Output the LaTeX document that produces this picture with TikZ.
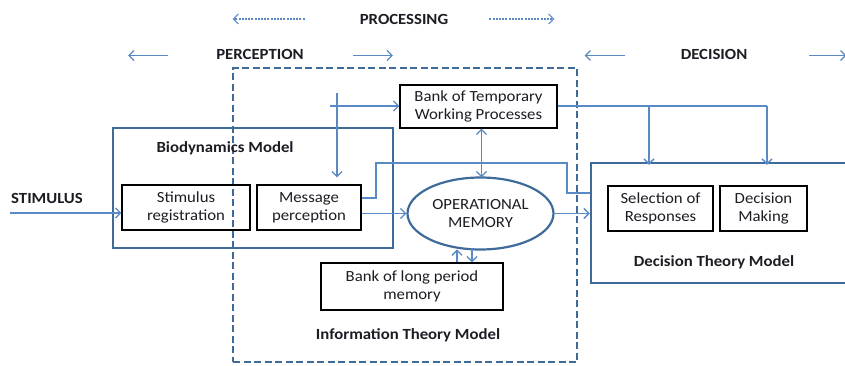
\documentclass[tikz,border=0pt]{standalone}
\usepackage{fontspec}
\setmainfont{Carlito}[FakeStretch=1.08]
\usetikzlibrary{arrows.meta,shapes.geometric,calc}
\definecolor{linkblue}{HTML}{5A8AC6}
\definecolor{frameblue}{HTML}{3F6B9A}
\definecolor{inktext}{HTML}{1C1C24}
\begin{document}
\begin{tikzpicture}[x=1pt,y=-1pt,
  txt/.style={font=\fontsize{15.5}{18}\selectfont, text=inktext, align=center, inner sep=0pt},
  lbl/.style={txt, font=\fontsize{15.5}{18}\selectfont\bfseries},
  inbox/.style={txt, draw=black, line width=1.2pt, minimum height=45pt},
  frame/.style={draw=frameblue, line width=2.4pt},
  link/.style={draw=linkblue, line width=1.3pt},
  tip/.style={link, -{Straight Barb[length=5pt,width=10pt]}},
  dtip/.style={link, {Straight Barb[length=5pt,width=10pt]}-{Straight Barb[length=5pt,width=10pt]}},
  dots/.style={tip, line width=1.1pt, dash pattern=on 2pt off 1.2pt}
]
\useasboundingbox (0,0) rectangle (845,365);

% outer model frames
\node[frame, dashed, dash pattern=on 7pt off 3.5pt, line width=2pt, minimum width=344pt, minimum height=294pt] (itm) at (405,215) {};
\node[frame, minimum width=280pt, minimum height=120pt] (bio) at (253,188) {};
\node[frame, minimum width=270pt, minimum height=120pt] (dtm) at (726,223) {};

% titles
\node[lbl] (biot) at (225,148) {Biodynamics Model};
\node[lbl] (itmt) at (408,335) {Information Theory Model};
\node[lbl] (dtmt) at (714,262) {Decision Theory Model};

% stage labels
\node[lbl] (proc) at (404,19) {PROCESSING};
\node[lbl] (perc) at (260,54) {PERCEPTION};
\node[lbl] (deci) at (714,54) {DECISION};
\node[lbl] (stimulus) at (47,198) {STIMULUS};

% inner blocks
\node[inbox, minimum width=128pt] (sreg) at (186,207.5) {Stimulus\\registration};
\node[inbox, minimum width=104pt] (mper) at (309,207.5) {Message\\perception};
\node[inbox, minimum width=157pt, minimum height=43pt] (btemp) at (478.5,106.5) {Bank of Temporary\\Working Processes};
\node[txt, ellipse, draw=frameblue, line width=2.2pt, minimum width=146pt, minimum height=72pt] (opmem) at (480.5,213.5) {OPERATIONAL\\MEMORY};
\node[inbox, minimum width=182pt, minimum height=47pt] (blong) at (412,286.5) {Bank of long period\\memory};
\node[inbox, minimum width=105pt] (sel) at (660.5,208.5) {Selection of\\Responses};
\node[inbox, minimum width=87pt] (dmk) at (763.5,208.5) {Decision\\Making};

% stage arrows
\draw[dots] ($(proc.west)+(-55,0)$) -- ($(proc.west)+(-127,0)$);
\draw[dots] ($(proc.east)+(41,0)$) -- ($(proc.east)+(106,0)$);
\draw[tip] ($(perc.west)+(-48,1.5)$) -- ($(perc.west)+(-88,1.5)$);
\draw[tip] ($(perc.east)+(49,1.5)$) -- ($(perc.east)+(89,1.5)$);
\draw[tip] ($(deci.west)+(-56,1.5)$) -- ($(deci.west)+(-96,1.5)$);
\draw[tip] ($(deci.east)+(62,1.5)$) -- ($(deci.east)+(99,1.5)$);

% free line ends
\coordinate (s0) at (10,213);
\coordinate (c1) at (337,93);
\coordinate (c2) at (330,106);
\coordinate (j1) at (649,106);
\coordinate (j2) at (767,106);

% connectors
\draw[tip] (s0) -- (s0 -| sreg.west);
\draw[tip] (c1) -- ($(c1 |- mper.north)+(0,-7)$);
\draw[tip] (c2) -- (c2 -| btemp.west);
\draw[link] (btemp.east |- c2) -- (j2);
\draw[tip] (j1) -- ($(j1 |- dtm.north)+(0,3)$);
\draw[tip] (j2) -- ($(j2 |- dtm.north)+(0,3)$);
\draw[dtip] ($(btemp.south)+(3,0)$) -- ($(opmem.north)+(1,1)$);
\draw[link] (mper.east) ++(0,-9.5) -| (376,163) -| (567,193) -- (dtm.west |- 567,193);
\draw[tip] (mper.east |- opmem.west) -- (opmem.west);
\draw[tip] (opmem.east) -- (opmem.east -| dtm.west);
\draw[tip] ($(blong.north)+(45,0)$) -- ($(blong.north)+(45,-13)$);
\draw[tip] ($(blong.north)+(60,-14)$) -- ($(blong.north)+(60,0)$);
\end{tikzpicture}
\end{document}
